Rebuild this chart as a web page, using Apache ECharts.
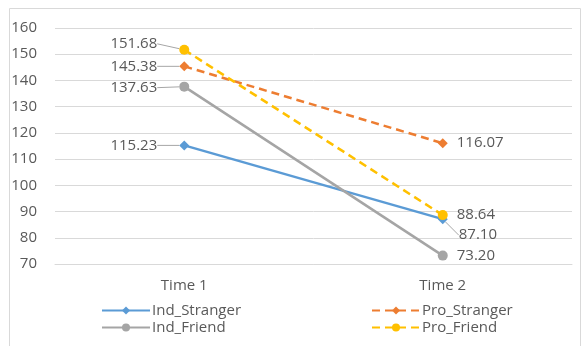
<!DOCTYPE html>
<html><head><meta charset="utf-8">
<script src="https://cdn.jsdelivr.net/npm/echarts@6/dist/echarts.min.js"></script>
<style>html,body{margin:0;padding:0;background:#fff}#c{width:583px;height:346px}</style>
</head><body><div id="c"></div>
<script>
const categories = ['Time 1', 'Time 2'];
const indStranger = [115.23, 87.10];
const proStranger = [145.38, 116.07];
const indFriend = [137.63, 73.20];
const proFriend = [151.68, 88.64];
const yTicks = {min: 70, max: 160, interval: 10};

const FONT = '"Open Sans", "Noto Sans", sans-serif';
const TXT = '#595959';

// label vertical nudges per series [Time 1, Time 2]
const nudges = {
  Ind_Stranger: [0, 16],
  Pro_Stranger: [0, 0],
  Ind_Friend: [1, 0],
  Pro_Friend: [-6, 0]
};

function mk(name, values, color, symbol, dashed) {
  const data = values.map((v, i) => ({
    value: v,
    labelLine: {show: i === 0 || nudges[name][i] !== 0}
  }));
  return {
    name, type: 'line', data,
    symbol, symbolSize: 10,
    itemStyle: {color},
    lineStyle: {color, width: 2.5, type: dashed ? [8, 5] : 'solid'},
    label: {
      show: true,
      formatter: p => p.value.toFixed(2),
      position: 'right',
      distance: 9,
      color: TXT, fontSize: 15, fontFamily: FONT
    },
    labelLine: {show: true, lineStyle: {color: '#A6A6A6', width: 1}},
    labelLayout: p => {
      const dy = nudges[name][p.dataIndex];
      if (p.dataIndex === 0) {
        return {x: p.rect.x - 22, y: p.rect.y + p.rect.height / 2 + dy, align: 'right', verticalAlign: 'middle'};
      }
      return {dx: name === 'Ind_Stranger' ? 2 : 0, dy};
    },
    emphasis: {disabled: true},
    animation: false
  };
}

const legendText = {color: TXT, fontSize: 15, fontFamily: FONT, padding: [0, 0, 0, -3]};

const chart = echarts.init(document.getElementById('c'));
chart.setOption({
  animation: false,
  textStyle: {fontFamily: FONT},
  graphic: [{type: 'rect', shape: {x: 9.5, y: 8.5, width: 571, height: 345}, style: {fill: 'none', stroke: '#D9D9D9', lineWidth: 1}, z: -1}],
  grid: {left: 55, right: 11, top: 28, bottom: 82, containLabel: false},
  xAxis: {
    type: 'category', data: categories, boundaryGap: true,
    axisLine: {show: true, lineStyle: {color: '#D9D9D9'}},
    axisTick: {show: false},
    axisLabel: {color: TXT, fontSize: 15, fontFamily: FONT, margin: 14}
  },
  yAxis: {
    type: 'value', min: yTicks.min, max: yTicks.max, interval: yTicks.interval,
    axisLine: {show: false}, axisTick: {show: false},
    splitLine: {lineStyle: {color: '#D9D9D9'}},
    axisLabel: {color: TXT, fontSize: 15, fontFamily: FONT, margin: 18}
  },
  legend: [
    {data: ['Ind_Stranger', 'Ind_Friend'], orient: 'vertical', left: 96, top: 298, itemGap: 2, itemWidth: 48, itemHeight: 10,
     textStyle: legendText},
    {data: ['Pro_Stranger', 'Pro_Friend'], orient: 'vertical', left: 366, top: 298, itemGap: 2, itemWidth: 48, itemHeight: 10,
     textStyle: legendText}
  ],
  series: [
    mk('Ind_Stranger', indStranger, '#5B9BD5', 'diamond', false),
    mk('Pro_Stranger', proStranger, '#ED7D31', 'diamond', true),
    mk('Ind_Friend', indFriend, '#A5A5A5', 'circle', false),
    mk('Pro_Friend', proFriend, '#FFC000', 'circle', true)
  ]
});
</script></body></html>
